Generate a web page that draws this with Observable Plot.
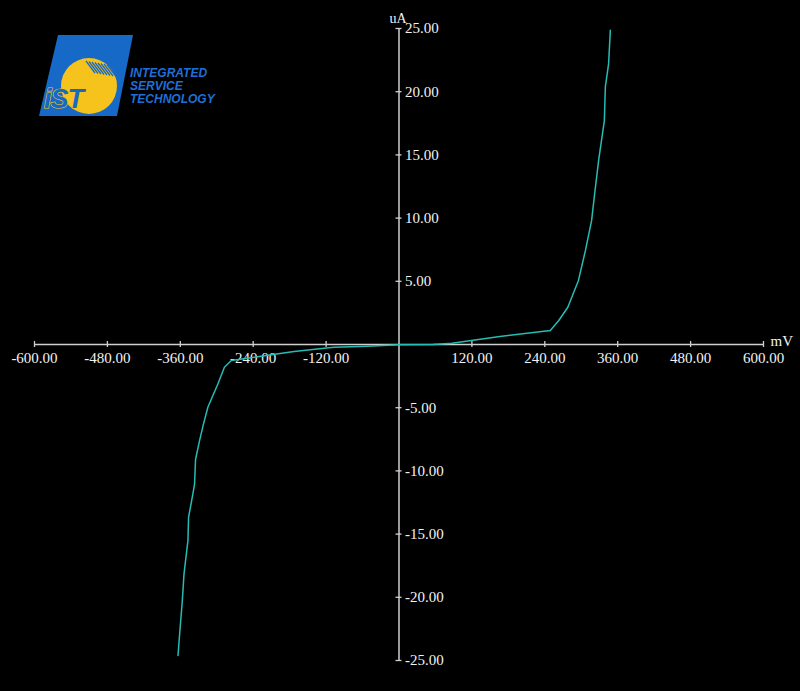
<!DOCTYPE html>
<html>
<head>
<meta charset="utf-8">
<script src="https://cdn.jsdelivr.net/npm/d3@7"></script>
<script src="https://cdn.jsdelivr.net/npm/@observablehq/plot@0.6"></script>
<style>
  html, body { margin: 0; padding: 0; background: #000; }
  #chart { position: relative; width: 800px; height: 691px; }
</style>
</head>
<body>
<div id="chart"></div>
<script>
// Data (mV vs uA)
const voltage = [-363.8, -361.1, -356.7, -353.9, -347.4, -346.4, -339.2, -336.5, -334.9, -328.3, -321.8, -314.6, -298, -287.4, -276, -172.7, -107.5, -52, 0, 56, 87, 166, 249, 263, 277.9, 295.4, 306.9, 317, 322, 328.7, 338, 339.7, 345, 347.9];
const current = [-24.6, -22.9, -20.27, -18.15, -15.5, -13.67, -11.8, -11.03, -9.1, -7.6, -6.28, -4.96, -3.1, -1.8, -1.27, -0.55, -0.21, -0.13, -0.02, 0, 0.1, 0.63, 1.11, 1.9, 2.95, 5.07, 7.44, 9.8, 11.9, 14.6, 17.7, 20.4, 22.2, 24.86];
const xTicks = [-600, -480, -360, -240, -120, 120, 240, 360, 480, 600];
const yTicks = [-25, -20, -15, -10, -5, 5, 10, 15, 20, 25];
const xUnit = "mV";
const yUnit = "uA";
const logoMark = "iST";
const logoLines = ["INTEGRATED", "SERVICE", "TECHNOLOGY"];

const data = voltage.map((v, i) => ({v, c: current[i]}));
const fmt = d => d3.format(".2f")(d).replace("\u2212", "-");
const axisColor = "#cfcfcf";

const chart = Plot.plot({
  width: 800,
  height: 691,
  marginLeft: 34,
  marginRight: 37,
  marginTop: 28,
  marginBottom: 31,
  x: {domain: [-600, 600], axis: null},
  y: {domain: [-25, 25], axis: null},
  style: {background: "#000", fontFamily: "'Liberation Serif', 'Times New Roman', serif", color: "#fff"},
  marks: [
    Plot.ruleY([0], {stroke: axisColor, strokeWidth: 1.5}),
    Plot.ruleX([0], {stroke: axisColor, strokeWidth: 1.5}),
    Plot.ruleX(xTicks, {x: d => d, y1: 0, y2: 0, insetTop: -3, insetBottom: -3, stroke: axisColor, strokeWidth: 1.3}),
    Plot.ruleY(yTicks, {y: d => d, x1: 0, x2: 0, insetLeft: -3, insetRight: -3, stroke: axisColor, strokeWidth: 1.3}),
    Plot.text(xTicks, {x: d => d, y: 0, text: d => fmt(d), dy: 14, fill: "#f2f2f2", fontSize: 15, textAnchor: "middle"}),
    Plot.text(yTicks, {x: 0, y: d => d, text: d => fmt(d), dx: 6, fill: "#f2f2f2", fontSize: 15, textAnchor: "start"}),
    Plot.text([yUnit], {x: 0, y: 25, text: d => d, dy: -10, dx: -1, fill: "#f2f2f2", fontSize: 14, textAnchor: "middle"}),
    Plot.text([xUnit], {x: 600, y: 0, text: d => d, dx: 7, dy: -3, fill: "#f2f2f2", fontSize: 15, textAnchor: "start"}),
    Plot.line(data, {x: "v", y: "c", stroke: "#26bcb4", strokeWidth: 1.5, curve: "linear"})
  ]
});

document.getElementById("chart").appendChild(chart);

// Logo (decorative)
const svg = d3.select(chart);
const defs = svg.append("defs");
defs.append("clipPath").attr("id", "logoClip")
  .append("polygon").attr("points", "58,35 133,35 117,116 39,116");
const logo = svg.append("g").attr("class", "logo").attr("text-anchor", "start");
logo.append("polygon").attr("points", "58,35 133,35 117,116 39,116").attr("fill", "#1769c8");
const inner = logo.append("g").attr("clip-path", "url(#logoClip)");
inner.append("circle").attr("cx", 89).attr("cy", 86).attr("r", 28).attr("fill", "#f6c21c");
const hatch = inner.append("g").attr("stroke", "#1769c8").attr("stroke-width", 1.3);
[0, 1, 2, 3, 4, 5, 6, 7].forEach(k => {
  hatch.append("line")
    .attr("x1", 86 + k * 3).attr("y1", 61 + k * 0.5)
    .attr("x2", 95 + k * 3).attr("y2", 73 + k * 0.5);
});
logo.append("text").attr("x", 44).attr("y", 108)
  .attr("text-anchor", "start")
  .attr("font-family", "'Liberation Sans', Arial, sans-serif")
  .attr("font-weight", "bold").attr("font-style", "italic")
  .attr("font-size", 27).attr("fill", "#1769c8")
  .attr("stroke", "#f6c21c").attr("stroke-width", 1.2)
  .attr("paint-order", "stroke")
  .attr("letter-spacing", -1)
  .text(logoMark);
logoLines.forEach((t, i) => {
  logo.append("text").attr("x", 130).attr("y", 77 + i * 12.8)
    .attr("text-anchor", "start")
    .attr("font-family", "'Liberation Sans', Arial, sans-serif")
    .attr("font-weight", "bold").attr("font-style", "italic")
    .attr("font-size", 12).attr("fill", "#1f6fd8")
    .text(t);
});
</script>
</body>
</html>
